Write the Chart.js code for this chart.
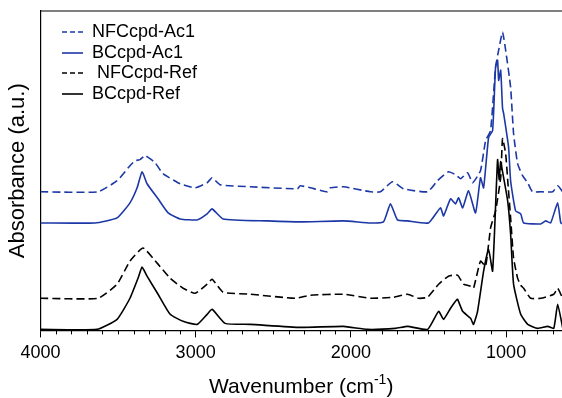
<!DOCTYPE html>
<html lang="en">
<head>
  <meta charset="UTF-8">
  <title>FTIR spectra</title>
  <script src="https://cdn.jsdelivr.net/npm/chart.js"></script>
  <style>
    body {
      margin: 0;
      background: #fff;
    }
    #chart {
      display: block;
    }
  </style>
</head>
<body>
  <canvas id="chart" width="562" height="398"></canvas>

  <script>
    // wavenumbers (cm-1) and absorbance (a.u., offset stacked)
    const wnNfcAc1 = [4000, 3630, 3506, 3423, 3390, 3358, 3326, 3294, 3261, 3210, 3100, 3003, 2926, 2894, 2842, 2648, 2345, 2326, 2261, 2152, 2132, 2048, 1874, 1810, 1732, 1661, 1506, 1442, 1371, 1326, 1293, 1248, 1216, 1165, 1132, 1100, 1068, 1048, 1023, 1003, 971, 952, 926, 894, 861, 830, 777, 700, 668, 635];
    const absNfcAc1 = [138, 138, 149, 164, 169, 170, 174, 171, 167, 156, 146, 142, 147, 152, 145, 143, 141, 144, 142, 138, 142, 143, 138, 138, 148, 141, 138, 149, 158, 155, 151, 157, 147, 159, 189, 199, 262, 279, 297, 279, 242, 196, 166, 154, 147, 138, 138, 138, 144, 138];

    const wnBcAc1 = [4000, 3648, 3506, 3423, 3377, 3345, 3313, 3242, 3177, 3100, 2990, 2926, 2894, 2823, 2539, 2326, 2048, 1874, 1790, 1745, 1700, 1635, 1500, 1423, 1403, 1358, 1326, 1306, 1280, 1242, 1197, 1165, 1145, 1113, 1087, 1068, 1055, 1048, 1035, 1023, 1016, 984, 971, 939, 906, 887, 777, 745, 713, 668, 648, 635];
    const absBcAc1 = [107, 107, 112, 127, 142, 158, 146, 131, 117, 111, 110, 116, 121, 111, 109, 108, 109, 107, 108, 126, 110, 109, 107, 122, 114, 131, 126, 132, 122, 139, 117, 152, 142, 192, 199, 262, 269, 249, 259, 221, 216, 182, 149, 119, 116, 107, 106, 109, 107, 127, 107, 106];

    const wnNfcRef = [4000, 3629, 3506, 3423, 3339, 3248, 3164, 3081, 3003, 2926, 2894, 2823, 2648, 2358, 2261, 2048, 1874, 1726, 1635, 1564, 1506, 1435, 1371, 1313, 1274, 1229, 1210, 1165, 1132, 1100, 1068, 1035, 1023, 1003, 990, 971, 952, 926, 906, 887, 842, 777, 693, 668, 642];
    const absNfcRef = [32, 32, 46, 69, 82, 67, 52, 42, 37, 46, 51, 38, 36, 32, 35, 36, 32, 33, 36, 32, 33, 46, 54, 55, 46, 44, 42, 69, 64, 102, 119, 152, 191, 176, 150, 112, 72, 52, 45, 42, 32, 32, 36, 42, 34];

    const wnBcRef = [4000, 3635, 3506, 3423, 3371, 3345, 3313, 3242, 3164, 3081, 2990, 2926, 2894, 2810, 2648, 2326, 2048, 1893, 1713, 1635, 1506, 1435, 1403, 1358, 1326, 1313, 1280, 1229, 1210, 1184, 1145, 1113, 1087, 1055, 1045, 1035, 1023, 990, 971, 952, 906, 861, 797, 732, 693, 668, 635];
    const absBcRef = [1, 1, 11, 32, 52, 63, 54, 36, 16, 9, 6, 16, 21, 7, 6, 3, 4, 1, 2, 4, 1, 19, 11, 22, 29, 31, 19, 12, 6, 19, 59, 81, 59, 170, 150, 168, 158, 129, 96, 46, 16, 6, 2, 4, 2, 26, 2];

    const seriesLabels = ['NFCcpd-Ac1', 'BCcpd-Ac1', ' NFCcpd-Ref', 'BCcpd-Ref'];
    const majorTicks = [4000, 3000, 2000, 1000];
    const minorTicks = [];
    for (let v = 3900; v >= 700; v -= 100) {
      if (v % 1000 !== 0) minorTicks.push(v);
    }

    const blue = '#1c38a6';
    const black = '#000000';
    const fontFamily = '"Liberation Sans", Arial, Helvetica, sans-serif';

    function pts(xs, ys) {
      return xs.map((x, i) => ({ x: x, y: ys[i] }));
    }

    const extras = {
      id: 'extras',
      afterDraw(chart) {
        const ctx = chart.ctx;
        const area = chart.chartArea;
        const xScale = chart.scales.x;

        ctx.save();
        // top frame line
        ctx.strokeStyle = '#000';
        ctx.lineWidth = 1.2;
        ctx.beginPath();
        ctx.moveTo(area.left, area.top);
        ctx.lineTo(area.right, area.top);
        ctx.stroke();

        // minor ticks
        ctx.lineWidth = 1;
        ctx.beginPath();
        minorTicks.forEach(v => {
          const x = Math.round(xScale.getPixelForValue(v)) + 0.5;
          ctx.moveTo(x, area.bottom);
          ctx.lineTo(x, area.bottom + 4);
        });
        ctx.stroke();

        // legend inside plot
        const rowY = [32, 53, 73, 94];
        chart.data.datasets.forEach((ds, i) => {
          const y = rowY[i];
          ctx.strokeStyle = ds.borderColor;
          ctx.lineWidth = 1.6;
          ctx.setLineDash(ds.borderDash.length ? [5, 3] : []);
          ctx.beginPath();
          ctx.moveTo(62, y);
          ctx.lineTo(83, y);
          ctx.stroke();
          ctx.setLineDash([]);
          ctx.fillStyle = '#000';
          ctx.font = '18px ' + fontFamily;
          ctx.textBaseline = 'middle';
          ctx.textAlign = 'left';
          ctx.fillText(ds.label, 92, y);
        });

        // x axis title with superscript
        const main = 'Wavenumber (cm';
        const sup = '-1';
        const end = ')';
        const bigFont = '21px ' + fontFamily;
        const smallFont = '14px ' + fontFamily;
        ctx.font = bigFont;
        const wMain = ctx.measureText(main).width;
        const wEnd = ctx.measureText(end).width;
        ctx.font = smallFont;
        const wSup = ctx.measureText(sup).width;
        const total = wMain + wSup + wEnd;
        let x = (area.left + area.right) / 2 - total / 2;
        const base = 393;
        ctx.textBaseline = 'alphabetic';
        ctx.fillStyle = '#000';
        ctx.font = bigFont;
        ctx.fillText(main, x, base);
        x += wMain;
        ctx.font = smallFont;
        ctx.fillText(sup, x, base - 9);
        x += wSup;
        ctx.font = bigFont;
        ctx.fillText(end, x, base);
        ctx.restore();
      }
    };

    new Chart(document.getElementById('chart'), {
      type: 'line',
      data: {
        datasets: [
          {
            label: seriesLabels[0],
            data: pts(wnNfcAc1, absNfcAc1),
            borderColor: blue,
            borderDash: [8, 4],
            borderWidth: 1.6
          },
          {
            label: seriesLabels[1],
            data: pts(wnBcAc1, absBcAc1),
            borderColor: blue,
            borderDash: [],
            borderWidth: 1.6
          },
          {
            label: seriesLabels[2],
            data: pts(wnNfcRef, absNfcRef),
            borderColor: black,
            borderDash: [8, 4],
            borderWidth: 1.6
          },
          {
            label: seriesLabels[3],
            data: pts(wnBcRef, absBcRef),
            borderColor: black,
            borderDash: [],
            borderWidth: 1.6
          }
        ]
      },
      options: {
        responsive: false,
        animation: false,
        devicePixelRatio: 1,
        layout: {
          padding: { left: 3, top: 11, right: 0, bottom: 29 }
        },
        elements: {
          point: { radius: 0 },
          line: { tension: 0.15, fill: false }
        },
        plugins: {
          legend: { display: false },
          tooltip: { enabled: false }
        },
        scales: {
          x: {
            type: 'linear',
            reverse: true,
            min: 640,
            max: 4000,
            afterBuildTicks: axis => {
              axis.ticks = majorTicks.map(v => ({ value: v }));
            },
            ticks: {
              color: '#000',
              font: { size: 18, family: fontFamily },
              padding: 5,
              maxRotation: 0,
              callback: v => String(v)
            },
            grid: {
              display: true,
              drawOnChartArea: false,
              drawTicks: true,
              tickLength: 7,
              tickColor: '#000',
              tickWidth: 1
            },
            border: { display: true, color: '#000', width: 1.2 }
          },
          y: {
            min: 0,
            max: 318,
            ticks: { display: false },
            grid: { display: false },
            border: { display: true, color: '#000', width: 1.2 },
            title: {
              display: true,
              text: 'Absorbance (a.u.)',
              color: '#000',
              font: { size: 22, family: fontFamily },
              padding: { top: 2, bottom: 1 }
            }
          }
        }
      },
      plugins: [extras]
    });
  </script>
</body>
</html>
